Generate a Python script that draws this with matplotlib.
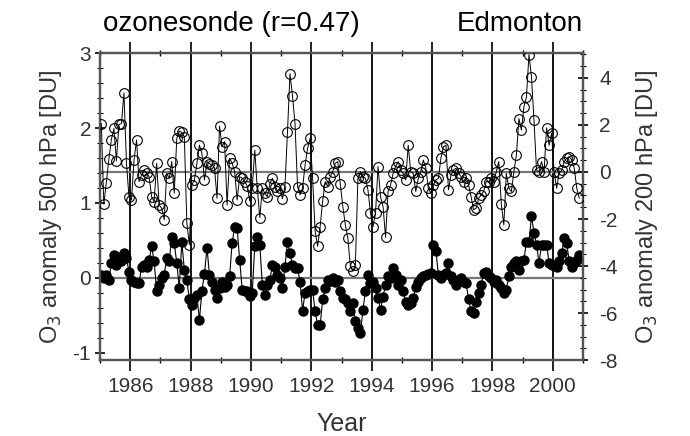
import matplotlib
matplotlib.use("Agg")
import matplotlib.pyplot as plt
import numpy as np
from matplotlib.ticker import MultipleLocator

plt.rcParams["font.family"] = ["Liberation Sans", "DejaVu Sans"]
plt.rcParams["axes.unicode_minus"] = False

# monthly ozone anomalies, Jan 1985 .. Nov 2000
o3_500 = [
    # 1985
    0.04, 0.0, 0.04, -0.03, 0.2, 0.31, 0.17, 0.28, 0.22, 0.33, 0.26, 0.08,
    # 1986
    -0.03, -0.05, -0.07, -0.07, 0.15, 0.17, 0.15, 0.24, 0.42, 0.22, -0.18, -0.09,
    # 1987
    0.0, 0.04, 0.26, 0.22, 0.55, 0.46, 0.2, -0.14, 0.48, 0.11, -0.03, -0.29,
    # 1988
    -0.36, -0.27, -0.23, -0.57, -0.17, 0.05, 0.4, 0.04, -0.05, -0.16, -0.27, -0.14,
    # 1989
    -0.05, -0.12, -0.09, 0.02, 0.46, 0.68, 0.66, 0.24, -0.16, -0.17, -0.18, -0.24,
    # 1990
    -0.2, 0.42, 0.55, 0.44, -0.09, -0.23, -0.1, -0.03, 0.17, 0.15, 0.04, 0.0,
    # 1991
    -0.14, 0.15, 0.48, 0.33, 0.17, 0.13, 0.13, -0.05, -0.44, -0.2, -0.18, -0.16,
    # 1992
    -0.16, -0.45, -0.63, -0.63, -0.29, -0.14, -0.03, -0.04, 0.0, -0.05, -0.03, -0.18,
    # 1993
    -0.27, -0.29, -0.34, -0.45, -0.34, -0.58, -0.67, -0.74, -0.43, -0.18, 0.04, -0.07,
    # 1994
    -0.05, -0.14, -0.27, -0.43, -0.25, -0.09, 0.02, 0.0, 0.13, 0.04, -0.09, -0.03,
    # 1995
    -0.18, -0.32, -0.36, -0.34, -0.27, -0.12, -0.05, 0.0, 0.02, 0.04, 0.05, 0.06,
    # 1996
    0.44, 0.36, 0.04, 0.0, 0.04, 0.06, 0.2, 0.02, -0.03, -0.09, -0.03, 0.0,
    # 1997
    -0.05, -0.07, -0.29, -0.45, -0.47, -0.32, -0.2, -0.09, 0.06, 0.08, 0.02, 0.0,
    # 1998
    -0.05, -0.03, -0.09, -0.14, -0.2, -0.16, 0.02, 0.15, 0.2, 0.22, 0.11, 0.22,
    # 1999
    0.24, 0.48, 0.48, 0.82, 0.6, 0.44, 0.2, 0.44, 0.44, 0.44, 0.2, 0.17,
    # 2000
    0.17, 0.15, 0.22, 0.33, 0.53, 0.46, 0.22, 0.15, 0.2, 0.24, 0.31,
]

o3_200 = [
    # 1985
    2.06, -1.37, -0.45, 0.54, 1.38, 1.85, 0.47, 2.02, 2.06, 3.36, 0.37, -1.05,
    # 1986
    -1.19, 0.51, 1.36, -0.41, -0.13, 0.08, -0.06, -0.2, -1.05, -1.26, 0.37, -1.4,
    # 1987
    -1.54, -2.03, -0.06, -0.27, 0.44, -0.9, 1.43, 1.74, 1.68, 1.5, -2.17, -3.09,
    # 1988
    -0.55, -0.34, 0.37, 1.14, 0.79, -0.34, 0.44, 0.35, 0.3, 0.18, -1.12, 1.95,
    # 1989
    1.07, 1.29, -1.4, 0.58, 0.37, 0.01, -1.19, -0.2, -0.27, -0.41, -0.6, -1.23,
    # 1990
    -0.69, 0.93, -0.69, -1.94, -0.69, -0.9, -1.05, -0.5, -0.27, -0.62, -0.8, -0.69,
    # 1991
    -1.14, -0.62, 1.68, 4.18, 3.23, 2.06, -0.62, -0.97, -0.69, 0.3, 1.0, 1.43,
    # 1992
    -0.27, -2.53, -3.16, -2.32, -1.23, -0.41, -0.62, -0.2, 0.01, 0.37, 0.44, -0.52,
    # 1993
    -1.47, -2.25, -2.81, -4.01, -4.22, -3.94, -0.27, 0.01, -0.2, -0.27, -0.76, -1.75,
    # 1994
    -2.32, -1.75, 0.23, -1.05, -1.47, -2.78, -0.83, -0.55, -0.06, 0.23, 0.44, 0.08,
    # 1995
    -0.06, -0.34, 1.14, 0.01, -0.06, -0.83, -0.27, 0.01, 0.51, 0.16, -0.69, -0.9,
    # 1996
    -0.55, -0.34, -0.27, 0.6, 1.07, 1.14, -0.76, -0.13, 0.08, 0.16, -0.05, -0.2,
    # 1997
    -0.41, -0.24, -0.55, -1.05, -1.61, -1.54, -1.12, -0.97, -0.83, -0.41, -0.41, -0.27,
    # 1998
    -0.41, 0.01, 0.44, -1.37, -2.25, -0.06, -0.69, -0.83, 0.01, 0.72, 2.27, 1.78,
    # 1999
    2.77, 3.19, 4.99, 4.04, 2.2, 0.08, 0.01, 0.44, 0.01, 1.88, 1.14, 1.64,
    # 2000
    0.01, -0.69, -0.06, 0.08, 0.44, 0.58, 0.65, 0.51, 0.16, -0.69, -1.12,
]

years = 1985 + (np.arange(len(o3_500)) + 0.5) / 12.0

fig = plt.figure(figsize=(6.9, 4.36), dpi=100)
ax = fig.add_axes([0.145, 0.174, 0.700, 0.704])
ax2 = ax.twinx()

# even-year separators and the two zero lines
for yr in range(1986, 2001, 2):
    ax.axvline(yr, color="k", lw=1.3, zorder=1)
ax.axhline(0, color="#777777", lw=1.6, zorder=1)
ax2.axhline(0, color="#777777", lw=1.6, zorder=1)

ax.plot(years, o3_500, "-", color="k", lw=0.8, marker="o", ms=6.5,
        mfc="k", mec="k", zorder=3)
ax2.plot(years, o3_200, "-", color="k", lw=0.7, marker="o", ms=7,
         mfc="none", mec="k", mew=0.8, zorder=3)

ax.set_xlim(1985, 2001)
ax.set_ylim(-1.1, 3.0)
ax2.set_ylim(-8.0, 5.05)

ax.xaxis.set_major_locator(MultipleLocator(2))
ax.xaxis.set_minor_locator(MultipleLocator(1))
ax.yaxis.set_major_locator(MultipleLocator(1))
ax.yaxis.set_minor_locator(MultipleLocator(0.2))
ax2.yaxis.set_major_locator(MultipleLocator(2))
ax2.yaxis.set_minor_locator(MultipleLocator(0.5))

ax.tick_params(axis="x", which="major", direction="out", length=8, width=1.2,
               top=True, labelsize=15, labelcolor="#333333", pad=4)
ax.tick_params(axis="x", which="minor", direction="inout", length=5, width=1,
               top=True)
ax.tick_params(axis="y", which="major", direction="inout", length=7, width=1.2,
               labelsize=15, labelcolor="#333333", pad=3)
ax.tick_params(axis="y", which="minor", direction="inout", length=4, width=0.8)
ax2.tick_params(axis="y", which="major", direction="inout", length=7, width=1.2,
                labelsize=15, labelcolor="#333333", pad=8)
ax2.tick_params(axis="y", which="minor", direction="inout", length=4, width=0.8)

for a in (ax, ax2):
    for s in a.spines.values():
        s.set_color("#555555")
        s.set_linewidth(1.6)

ax.set_xlabel("Year", fontsize=18, color="#333333", labelpad=12)
ax.set_ylabel("O$_3$ anomaly 500 hPa [DU]", fontsize=17, color="#333333",
              labelpad=6)
ax2.set_ylabel("O$_3$ anomaly 200 hPa [DU]", fontsize=17, color="#333333",
               labelpad=12)

fig.text(0.149, 0.945, "ozonesonde (r=0.47)", fontsize=20, ha="left", va="center")
fig.text(0.845, 0.945, "Edmonton", fontsize=20, ha="right", va="center")

fig.savefig("out.png", dpi=100)
